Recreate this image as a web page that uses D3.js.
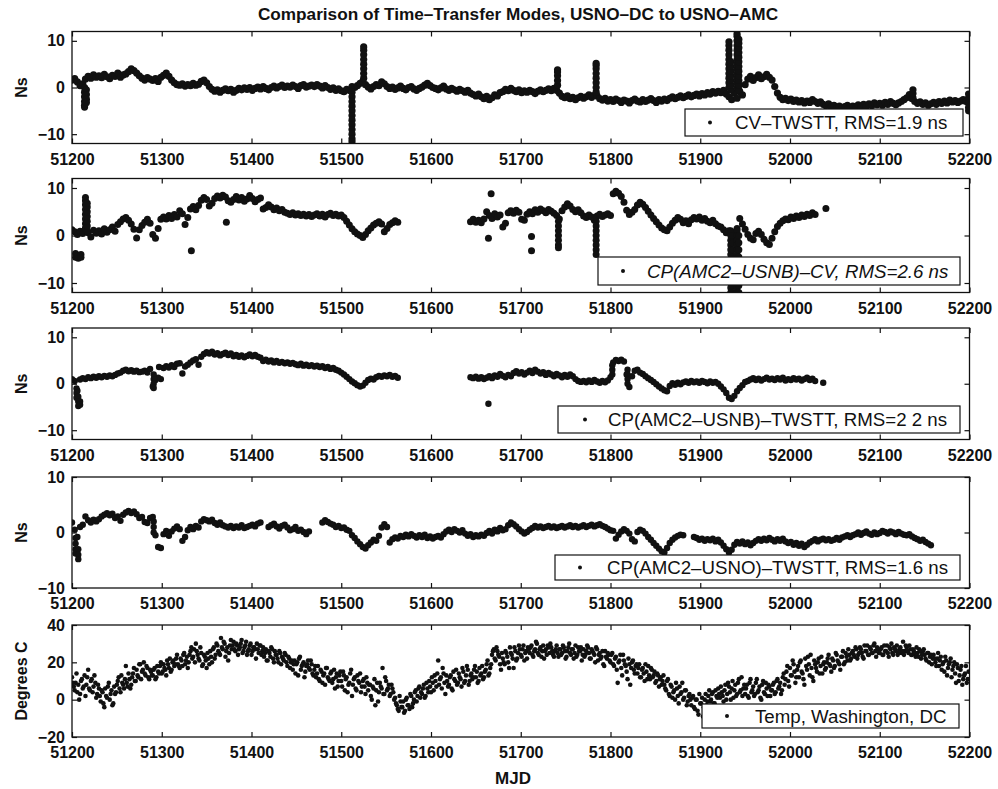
<!DOCTYPE html>
<html>
<head>
<meta charset="utf-8">
<script src="https://cdn.jsdelivr.net/npm/d3@7"></script>
<style>
  body { margin: 0; background: #fff; }
  text { font-family: "Liberation Sans", Arial, Helvetica, sans-serif; fill: #111; }
</style>
</head>
<body>
<svg id="chart" width="998" height="789"></svg>
<script>
// ---------------------------------------------------------------------------
// Data: differences in ns, sampled every 3 days (MJD); temperature every 2 days
// (two interleaved runs: even and odd days).
// Each series is a list of [startMJD, values] runs; gaps between runs are missing data.
// "Bursts" are columns of extra points (excursions / outliers) at a given MJD.
// ---------------------------------------------------------------------------
const mjdTicks = [51200, 51300, 51400, 51500, 51600, 51700, 51800, 51900, 52000, 52100, 52200];
const nsStepDays = 3;
const tempStepDays = 2;

const cvTwsttNs = [
  [51200, [
    1.6, 1.9, 1.2, 0.4, 0.8, 1.8, 2.4, 2.0, 2.7, 2.2,
    2.5, 2.1, 2.8, 2.3, 1.9, 2.6, 2.4, 3.1, 2.2, 2.7,
    2.9, 3.4, 4.0, 3.6, 3.1, 2.5, 2.0, 1.6, 2.1, 1.8,
    1.5, 1.9, 1.3, 2.2, 2.6, 3.1, 2.4, 1.6, 1.0, 0.6,
    0.5, 0.8, 0.3, 0.6, 0.4, 0.9, 0.5, 0.7, 1.3, 1.6,
    1.0, 0.2, -0.4, -0.8, -0.5, -1.0, -0.6, -0.3, -0.7, -0.4,
    -1.0, -0.6, -0.2, -0.5, -0.1, -0.4, 0.0, -0.6, -0.2, 0.1,
    -0.3, 0.2, -0.2, -0.5, 0.0, 0.3, -0.1, 0.2, 0.5, 0.0,
    0.3, 0.1, 0.5, 0.2, -0.2, 0.4, 0.6, 0.1, 0.3, 0.5,
    0.2, 0.6, 0.3, -0.1, 0.4, 0.0, -0.4, -0.1, -0.6, -0.3,
    -0.7, -0.9, -0.4, -0.6, 0.2, 0.0, 0.4, 0.9, 1.3, 0.6,
    0.1, -0.3, 0.2, 0.6, 0.4, 1.2, 0.8, 0.2, -0.2, 0.1,
    -0.4, -0.1, 0.3, -0.2, -0.5, 0.0, 0.2, -0.3, -0.6, -0.2,
    0.1, 0.5, 0.9, 0.4, 0.0, -0.2, -0.5, -0.1, 0.3, -0.3,
    -0.6, -0.2, -0.5, -0.8, -0.4, -0.7, -1.0, -0.6, -1.2, -1.5,
    -1.8, -1.4, -2.0, -2.4, -1.9, -2.6, -2.2, -1.6, -1.8, -1.1,
    -0.9, -0.4, -0.7, -0.2, -0.6, -0.9, -0.5, -1.1, -0.7, -1.0,
    -0.6, -0.9, -1.3, -0.8, -0.5, -0.9, -0.6, -0.3, -0.7, -0.2,
    -0.6, -1.2, -1.9, -2.2, -1.8, -2.4, -2.1, -2.6, -2.2, -1.9,
    -2.3, -2.0, -1.6, -2.1, -1.7, -1.8, -2.4, -2.7, -2.3, -2.9,
    -2.6, -3.0, -2.5, -2.8, -3.2, -2.7, -2.9, -3.3, -2.8, -2.5,
    -2.9, -3.1, -2.6, -3.0, -2.7, -2.4, -2.8, -3.2, -2.6, -2.9,
    -2.5, -2.8, -2.3, -2.0, -2.4, -2.1, -1.8, -2.2, -1.9, -1.6,
    -2.0, -1.7, -1.4, -1.8, -1.3, -1.6, -1.1, -1.4, -0.9, -1.2,
    -0.8, -1.1, -0.6, -1.4, -2.0, -2.6, -1.2, -2.3, -0.9, -1.6,
    0.6, 1.8, 2.4, 1.5, 2.1, 2.7, 1.9, 2.3, 2.8, 2.2,
    1.6, 0.2, -1.2, -2.1, -2.6, -2.3, -2.8, -2.5, -3.0, -2.7,
    -3.1, -2.8, -3.3, -2.9, -3.2, -2.6, -3.0, -3.4, -3.1, -3.6,
    -3.9, -3.5, -4.2, -3.8, -4.4, -4.0, -4.5, -4.1, -3.8, -4.3,
    -4.0, -4.4, -3.7, -4.1, -3.6, -4.0, -3.5, -3.9, -3.3, -3.7,
    -3.4, -3.8, -3.2, -3.6, -3.0, -3.4, -3.7, -3.3, -3.0, -2.6,
    -2.2, -1.5, -2.4, -3.0, -3.4, -3.1, -3.6, -3.3, -3.8, -3.5,
    -3.2, -3.6, -3.0, -3.4, -2.9, -3.3, -2.7, -3.1, -2.8, -3.2,
    -2.9, -2.6, -3.0, -2.4
  ]]
];
const cvTwsttBursts = [
  [51214, [0, -1, -2, -3, -3.8, -4.2]],
  [51216, [-0.5, -1.5, -2.5, -3.2]],
  [51512, [-1, -2, -3, -4, -5, -6, -7, -8, -9, -10, -11, -11.6]],
  [51525, [2, 3, 4, 5, 6, 7, 8, 8.7]],
  [51741, [0.5, 1.5, 2.5, 3.3, 3.8]],
  [51784, [-1, 0, 1, 2, 3, 4, 4.7, 5.2]],
  [51932, [0, 1, 2, 3, 4, 5, 6, 7, 8, 9, 9.8]],
  [51934, [-0.5, 0.5, 1.5, 2.5, 3.5, 4.5, 5.5]],
  [51941, [0, 1, 2, 3, 4, 5, 6, 7, 8, 9, 10, 11, 11.5]],
  [51943, [-0.5, 0.5, 1.5, 2.5, 3.5, 4.5, 5.5, 6.5, 7.5, 8.5, 9.5, 10.3]],
  [52137, [-2.2, -1.3, -0.5]],
  [52199, [-1.4, -2.4, -3.4, -4.3, -5.0]]
];

const cpUsnbCvNs = [
  [51200, [
    1.2, 0.8, 0.2, 0.9, 0.4, 1.5, 0.6, -0.3, 1.1, 0.5,
    1.0, 0.3, 1.4, 0.7, 1.2, 1.8, 0.9, 2.3, 2.9, 3.5,
    3.8, 3.2, 2.4, 1.3, -0.5, 1.2, 2.1, 2.8, 3.4, 2.6,
    0.2, -0.6, 1.5, 3.4, 3.9, 3.5, 4.2, 3.6, 4.4, 3.9,
    5.2, 4.6, 2.3, 3.8, 5.6, 6.1, 5.4, 6.3, 7.4, 8.0,
    7.6, 6.2, 6.8, 7.8, 8.3, 7.9, 8.5, 8.1, 7.3, 7.0,
    7.6, 8.2, 7.5, 8.0, 7.2, 7.7, 8.4, 7.8, 7.1, 7.6,
    7.9, 5.6, 5.9, 6.5, 6.0, 5.4, 5.8, 5.2, 5.5, 4.9,
    4.7, 4.4, 4.8, 4.3, 4.6, 4.2, 4.5, 4.1, 4.4, 4.0,
    4.3, 4.6, 4.1, 4.5, 3.9, 4.4, 4.7, 4.2, 4.5, 4.1,
    4.3, 3.8, 3.0, 2.2, 1.4, 0.8, 0.3, 0.0, -0.4, 0.2,
    1.0, 1.6, 2.2, 2.6, 2.9, 2.4, 0.8, 1.5, 2.3, 2.7,
    3.1, 2.8
  ]],
  [51644, [
    2.9, 3.4,
    2.8, 3.2, 2.7, 3.5, 5.0, 4.2, 3.6, 4.6, 3.9, 4.3,
    1.8, 2.6, 4.8, 5.2, 4.7, 5.3, 4.9, 3.4, 3.2, 4.5,
    5.0, 4.6, 5.4, 4.9, 5.6, 5.2, 4.8, 5.5, 5.1, 4.7,
    4.2, 3.5, 5.2, 6.0, 6.7, 6.2, 5.5, 5.0, 5.4, 4.8,
    4.1, 3.8, 4.3, 3.9, 3.2, 4.1, 4.5, 4.0, 4.3, 4.6,
    4.2, 8.8, 9.3, 8.9, 8.2, 7.0, 5.3, 4.4, 4.9, 5.5,
    6.4, 7.0, 6.6, 5.9, 5.1, 4.3, 3.6, 2.9, 2.2, 1.6,
    1.2, 1.0, 1.8, 2.6, 3.2, 3.8, 3.4, 2.7, 3.1, 2.5,
    3.3, 3.8, 3.5, 3.9, 3.2, 3.6, 3.0, 2.7, 3.2, 2.5,
    2.0, 1.8, 1.2, 0.6, 1.0, 0.4, -0.2, 1.5, 3.6, 2.4,
    1.3, 0.2, -0.6, -0.9, 0.4, 0.9, 0.2, -0.8, -1.5, -1.9,
    -0.6, 0.8, 1.9, 2.6, 3.1, 3.5, 3.3, 3.9, 3.6, 4.1,
    3.8, 4.3, 4.0, 4.5, 4.2, 4.8, 4.4
  ]],
  [52040, [5.7]]
];
const cpUsnbCvBursts = [
  [51204, [-3.8, -4.6]], [51207, [-4.2, -4.8]], [51210, [-4.0, -4.6]],
  [51215, [1.5, 2.5, 3.5, 4.5, 5.5, 6.5, 7.3, 8.0]],
  [51217, [1, 2, 3, 4, 5, 6, 6.8]],
  [51333, [-3.2]], [51372, [2.8]],
  [51664, [-0.6]], [51667, [8.8]],
  [51712, [-0.2, -3.2]],
  [51742, [3, 2, 1, 0, -1, -2, -2.6]],
  [51784, [3, 2, 1, 0, -1, -2, -3, -4]],
  [51934, [1, 0, -1, -2, -3, -4, -5, -6, -7, -8, -9, -10, -11, -12, -12.8]],
  [51936, [0, -1.5, -3, -4.5, -6, -7.5, -9, -10.5, -12, -12.8]],
  [51941, [1, 0, -1, -2, -3, -4, -5, -6, -7, -8, -9, -10, -11, -12, -12.8]],
  [51943, [0, -1.5, -3, -4.5, -6, -7.5, -9, -10.5, -12, -12.8]]
];

const cpUsnbTwsttNs = [
  [51200, [
    1.0, 0.6, -1.5, 0.9, 1.2, 1.0, 1.4, 1.2, 1.5, 1.3,
    1.6, 1.4, 1.7, 1.5, 1.8, 1.6, 1.9, 2.2, 2.4, 2.8,
    3.0, 2.7, 2.9, 2.6, 2.8, 2.5, 2.6, 2.8, 2.4, 3.2,
    -0.6, 0.8, 1.3, 1.0, 3.4, 3.8, 3.5, 4.0, 3.6, 4.3,
    4.4, 2.2, 3.7, 4.1, 4.6, 5.0, 5.3, 4.1, 5.8, 6.4,
    6.8, 6.5, 6.9, 6.3, 6.6, 6.1, 6.4, 6.7, 6.2, 6.5,
    5.9, 6.2, 5.8, 6.1, 5.7, 6.0, 6.3, 5.9, 6.2, 5.8,
    5.6, 4.9, 5.2, 4.8, 5.0, 4.6, 4.9, 4.5, 4.7, 4.4,
    4.6, 4.3, 4.5, 4.2, 4.0, 4.3, 3.9, 4.1, 3.8, 4.0,
    3.7, 3.9, 3.6, 3.8, 3.4, 3.6, 3.2, 3.4, 3.0, 2.8,
    2.4, 2.0, 1.5, 1.0, 0.5, 0.1, -0.3, -0.6, -0.4, 0.2,
    0.8, 1.1, 0.9, 1.4, 1.7, 1.5, 1.8, 1.6, 1.9, 1.5,
    1.7, 1.3
  ]],
  [51644, [
    1.4, 1.2,
    1.5, 1.1, 1.4, 1.0, 1.3, 1.6, 1.2, 1.8, 1.5, 2.1,
    1.7, 1.4, 1.9, 1.6, 2.3, 2.7, 2.2, 2.5, 2.0, 2.4,
    2.8, 2.3, 3.0, 2.6, 2.2, 2.5, 1.9, 2.3, 2.0, 1.6,
    2.1, 1.8, 1.4, 1.9, 1.5, 2.0, 1.6, 1.0, 0.6, 0.4,
    0.6, 0.3, 0.7, 0.4, 0.8, 0.5, 0.2, 0.6, 0.3, 0.7,
    1.4, 4.6, 5.1, 4.9, 5.2, 4.8, 2.0, -0.7, 1.6, 2.8,
    3.0, 2.4, 2.1, 1.6, 1.2, 0.8, 0.4, -0.1, -0.6, -1.0,
    -1.4, -1.6, -0.5, 0.1, -0.2, 0.2, -0.1, 0.3, 0.5, 0.2,
    0.6, 0.3, 0.5, 0.2, 0.6, 0.4, 0.1, 0.5, 0.2, 0.4,
    0.0, -0.6, -1.2, -2.0, -3.0, -3.3, -2.6, -1.6, -0.9, -0.3,
    0.4, 0.6, 0.9, 1.2, 0.8, 1.1, 0.7, 1.0, 1.3, 0.9,
    1.1, 0.8, 1.2, 0.9, 1.3, 0.7, 1.0, 0.8, 1.2, 0.9,
    1.1, 0.7, 1.0, 1.3, 0.8, 1.1, 0.6
  ]],
  [52037, [0.2]]
];
const cpUsnbTwsttBursts = [
  [51205, [-1, -2, -3]], [51207, [-2.8, -3.8, -4.8]], [51209, [-3.8, -4.5]],
  [51291, [2, 1, 0, -0.9]], [51297, [3.6]],
  [51664, [-4.3]],
  [51802, [2, 3, 4]], [51819, [3, 2, 1, 0]]
];

const cpUsnoTwsttNs = [
  [51200, [
    1.8, 0.5, -0.8, 1.0, 1.4, 2.9, 2.2, 1.8, 2.3, 2.0,
    2.4, 2.9, 3.2, 3.5, 3.1, 3.4, 2.6, 2.9, 2.1, 3.2,
    3.6, 3.9, 3.5, 3.8, 3.3, 2.6, 2.8, 1.9, 1.7, 2.6,
    2.8, -0.5, -2.6, -2.8, -0.3, 0.3, -0.6, 0.2, 0.7, 1.1,
    0.6, -1.5, -0.8, 0.4, 1.0, 0.6, 1.2, 0.9, 2.0, 2.4,
    2.2, 2.0, 2.3, 1.7, 1.4, 1.8, 1.3, 1.1, 0.9, 1.2,
    0.8, 1.1, 0.9, 1.3, 0.8, 1.0, 1.2, 1.4, 1.1, 1.6,
    1.8
  ]],
  [51419, [
    1.0, 1.3, 1.6, 1.1, 0.7, 1.2, 1.4,
    0.9, 0.4, 0.6, 1.0, 0.3, 0.5, 0.1, -0.3, 0.2
  ]],
  [51479, [
    1.8, 2.2, 1.9, 1.6, 1.4, 1.0, 1.2,
    0.8, 0.9, 0.5, 0.3, -0.5, -1.0, -1.6, -2.1, -2.6, -2.9,
    -2.3, -1.8, -1.3, -1.5, -0.6, 0.9, 1.5, 1.0, -1.8, -1.2,
    -0.9, -1.1, -0.6, -0.8, -0.4, -0.7, -0.3, -0.6, -0.9, -0.5,
    -0.8, -0.4, -1.0, -0.7, -1.1, -0.8, -0.6, -0.9, -0.3, 0.2,
    0.5, 0.1, 0.6, 0.3, 0.0, 0.4, -0.2, -0.6, -0.3, -0.8,
    -0.5, -0.7, -0.4, -0.6, -0.1, 0.3, -0.2, 0.5, 0.2, 0.8,
    0.4, 0.6, 1.3, 1.8, 1.5, 1.1, 0.6, 0.2, -0.2, 0.1,
    0.5, 0.8, 1.2, 0.9, 1.1, 0.8, 1.0, 1.2, 0.9, 1.1,
    0.8, 1.0, 1.2, 0.9, 1.1, 1.3, 1.0, 1.2, 0.9, 1.1,
    1.3, 1.0, 1.2, 1.4, 1.1, 1.3, 1.5, 1.2, 1.0, 0.7,
    0.4, 0.3, -1.1, -0.4, 0.2, 0.6, 0.3, -0.2, -1.2, -1.6,
    0.1, 0.5, 0.3, -0.2, -0.8, -1.3, -1.9, -2.4, -2.9, -3.4,
    -3.6, -2.8, -1.9, -1.3, -0.9, -0.6, -0.4, -0.5
  ]],
  [51893, [
    -0.8, -1.0, -1.3, -1.1, -1.5, -1.2, -1.4, -1.1, -1.6,
    -1.3, -1.8, -2.4, -3.0, -3.6, -3.1, -2.2, -1.7, -2.0, -1.6,
    -2.1, -1.8, -2.3, -1.9, -1.5, -1.2, -1.5, -1.1, -1.4, -1.0,
    -1.3, -1.6, -1.2, -1.5, -1.1, -1.6, -1.9, -1.7, -2.2, -1.9,
    -2.4, -2.0, -2.6, -2.2, -1.8, -1.5, -1.2, -1.6, -1.3, -1.1,
    -1.4, -1.2, -1.5, -1.3, -1.0, -1.3, -0.9, -0.7, -0.5, -0.8,
    -0.5, -0.3, 0.0, -0.4, -0.1, 0.2, -0.2, -0.4, 0.0, -0.3,
    -0.1, 0.3, 0.1, -0.2, 0.2, 0.0, -0.3, 0.1, -0.2, -0.4,
    -0.5, -0.3, -0.7, -1.0, -1.2, -1.5, -1.3, -1.7, -2.0, -2.3
  ]]
];
const cpUsnoTwsttBursts = [
  [51204, [-1, -2, -3, -3.8]], [51207, [-3, -4, -4.8]],
  [51291, [2, 1, 0]]
];

const tempWashingtonC = [
  [51200, [
    12, 7, 9, 4, 0, 10, 6, 13, 8, 16, 5, 11, 7, 9, 3,
    6, -1, 4, -4, 2, 7, 0, 5, -2, 3, 8, 12, 4, 9, 6,
    18, 7, 11, 8, 14, 10, 16, 12, 19, 15, 20, 13, 17, 11, 15,
    13, 17, 12, 15, 18, 14, 19, 16, 21, 17, 15, 20, 18, 22, 19,
    17, 21, 24, 19, 23, 20, 26, 22, 27, 30, 24, 21, 25, 19, 23,
    17, 22, 26, 20, 28, 24, 29, 25, 33, 27, 30, 26, 21, 29, 27,
    31, 26, 29, 27, 30, 25, 28, 31, 26, 29, 24, 28, 27, 30, 25,
    29, 26, 23, 27, 21, 25, 28, 22, 26, 24, 20, 25, 23, 21, 24,
    18, 22, 20, 16, 21, 19, 13, 23, 18, 20, 15, 19, 17, 21, 14,
    16, 12, 18, 10, 15, 13, 8, 17, 11, 14, 9, 16, 12, 7, 13,
    10, 15, 5, 12, 8, 14, 2, 11, 6, 13, 9, 4, 10, 7, 12,
    5, 8, 0, 6, -3, 9, 4, 7, 17, 3, 10, 6, 2, 8, 4,
    1, -3, -6, -1, -4, -7, 0, -3, -5, 2, -2, 4, -1, 6, 1,
    3, 8, 2, 6, 10, 4, 9, 13, 7, 21, 11, 6, 14, 3, 10,
    8, 13, 5, 11, 16, 9, 12, 7, 15, 10, 18, 8, 13, 11, 16,
    12, 9, 17, 14, 11, 15, 19, 13, 17, 24, 27, 21, 26, 23, 16,
    22, 19, 25, 20, 28, 24, 17, 26, 22, 29, 24, 27, 21, 26, 28,
    25, 29, 23, 27, 30, 24, 28, 26, 22, 27, 29, 25, 28, 24, 26,
    29, 23, 27, 25, 28, 22, 26, 30, 24, 27, 25, 23, 28, 26, 21,
    27, 24, 29, 25, 22, 26, 24, 28, 21, 25, 23, 19, 26, 22, 24,
    20, 25, 18, 23, 9, 21, 17, 24, 19, 15, 22, 8, 20, 16, 18,
    14, 19, 12, 17, 10, 15, 18, 11, 16, 13, 9, 14, 7, 12, 10,
    8, 5, 11, 2, 7, 4, 0, 6, -2, 3, 9, 1, 5, -1, 3,
    -3, 2, -5, 0, -8, -2, 1, -4, 3, -1, 5, 0, 4, -2, 2,
    6, 1, 4, -1, 8, 3, 7, 0, 10, 5, 2, 9, 4, 12, 6,
    3, 8, 1, 11, 5, 2, 9, 4, 7, 0, 10, 3, 6, 8, 2,
    5, 9, 4, 11, 7, 3, 12, 8, 15, 10, 17, 13, 19, 9, 16,
    12, 21, 14, 8, 18, 23, 13, 17, 10, 19, 15, 22, 18, 14, 20,
    17, 22, 19, 15, 21, 18, 24, 20, 16, 23, 19, 25, 21, 24, 22,
    26, 23, 27, 24, 28, 25, 22, 26, 29, 24, 27, 25, 30, 23, 27,
    25, 28, 24, 26, 29, 23, 27, 25, 28, 26, 24, 27, 25, 31, 26,
    28, 25, 27, 24, 26, 23, 25, 27, 22, 26, 24, 21, 25, 23, 19,
    24, 20, 22, 18, 23, 19, 15, 21, 17, 20, 12, 18, 14, 19, 10,
    16, 8, 13, 18, 11
  ]],
  [51201, [
    9, 5, 14, 8, 3, 11, 7, 2, 12, 6, 10, 4, 13, 1, 8,
    2, 5, -2, 6, 1, 9, 3, -3, 7, 4, 10, 6, 13, 8, 11,
    9, 14, 6, 12, 17, 10, 13, 19, 11, 16, 14, 18, 12, 16, 13,
    16, 11, 18, 14, 20, 15, 17, 13, 19, 22, 16, 21, 19, 24, 18,
    22, 18, 25, 21, 17, 24, 28, 23, 20, 26, 22, 28, 18, 24, 21,
    25, 19, 23, 27, 22, 30, 26, 24, 28, 31, 23, 28, 25, 32, 29,
    27, 30, 24, 28, 32, 26, 29, 24, 27, 30, 26, 28, 22, 27, 29,
    24, 28, 25, 21, 26, 23, 27, 20, 24, 22, 26, 19, 22, 25, 20,
    23, 17, 21, 19, 14, 20, 22, 16, 19, 12, 18, 21, 16, 19, 13,
    18, 14, 11, 16, 9, 14, 17, 12, 10, 15, 11, 6, 14, 10, 15,
    7, 13, 11, 4, 9, 16, 8, 12, 5, 10, 14, 7, 11, 3, 9,
    8, 2, 7, 11, 5, -1, 9, 6, 3, 12, 5, 8, 3, 6, 0,
    -2, -5, 2, -4, -1, -6, 1, -3, 3, -4, 0, 5, 2, 7, 4,
    6, 1, 9, 4, 7, 12, 5, 10, 14, 8, 12, 17, 9, 13, 7,
    12, 6, 15, 10, 8, 14, 11, 17, 9, 13, 16, 10, 14, 12, 18,
    15, 10, 13, 18, 12, 16, 21, 14, 19, 26, 22, 28, 24, 19, 25,
    20, 26, 23, 17, 25, 22, 28, 21, 25, 27, 23, 29, 25, 22, 27,
    28, 24, 26, 31, 25, 27, 23, 29, 26, 24, 28, 30, 26, 23, 27,
    25, 27, 24, 29, 26, 23, 28, 25, 27, 22, 29, 24, 26, 28, 24,
    23, 26, 28, 22, 27, 25, 20, 27, 24, 22, 26, 18, 23, 25, 21,
    24, 19, 22, 16, 20, 24, 13, 21, 18, 11, 19, 17, 21, 14, 19,
    17, 12, 16, 14, 19, 11, 13, 17, 12, 15, 10, 13, 11, 8, 13,
    6, 10, 3, 8, 1, 5, 9, 2, 7, 4, 0, 5, -3, 2, 0,
    1, -4, 0, -6, 3, -2, -9, 0, -3, 2, -1, 3, -2, 5, 1,
    3, 7, 2, 5, 0, 9, 4, 6, 1, 8, 3, 11, 5, 2, 8,
    6, 2, 9, 4, 7, 3, 11, 5, 1, 8, 4, 9, 2, 7, 5,
    8, 3, 10, 6, 9, 5, 14, 11, 18, 7, 13, 21, 15, 12, 18,
    20, 15, 11, 22, 16, 19, 24, 12, 21, 17, 20, 14, 23, 19, 16,
    20, 24, 18, 22, 17, 25, 21, 19, 23, 26, 20, 23, 27, 21, 25,
    24, 28, 22, 25, 27, 23, 29, 26, 24, 28, 25, 29, 26, 28, 25,
    27, 24, 29, 26, 25, 28, 30, 24, 27, 29, 25, 28, 26, 24, 29,
    26, 29, 24, 27, 25, 28, 23, 26, 24, 27, 22, 25, 20, 24, 22,
    22, 18, 25, 21, 16, 20, 23, 13, 19, 22, 16, 20, 9, 17, 13,
    18, 11, 14, 9, 15
  ]]
];

const legendLabels = [
  "CV\u2013TWSTT, RMS=1.9 ns",
  "CP(AMC2\u2013USNB)\u2013CV, RMS=2.6 ns",
  "CP(AMC2\u2013USNB)\u2013TWSTT, RMS=2 2 ns",
  "CP(AMC2\u2013USNO)\u2013TWSTT, RMS=1.6 ns",
  "Temp, Washington, DC"
];
const titleText = "Comparison of Time\u2013Transfer Modes, USNO\u2013DC to USNO\u2013AMC";

// ---------------------------------------------------------------------------
// Layout
// ---------------------------------------------------------------------------
const W = 998, H = 789;
const plotLeft = 72, plotRight = 969.5;
const ink = "#111";

const panels = [
  { top: 31.5, bottom: 143.5, domain: [-12, 12], yTicks: [-10, 0, 10], yLabel: "Ns",
    series: cvTwsttNs, step: nsStepDays, bursts: cvTwsttBursts, r: 3.6,
    legend: { x: 685, y: 109, w: 278, h: 27, dotX: 710, textX: 735, italic: false, label: legendLabels[0] } },
  { top: 178.5, bottom: 292.5, domain: [-12, 12], yTicks: [-10, 0, 10], yLabel: "Ns",
    series: cpUsnbCvNs, step: nsStepDays, bursts: cpUsnbCvBursts, r: 3.5,
    legend: { x: 598, y: 257, w: 362, h: 28, dotX: 623, textX: 647, italic: true, label: legendLabels[1] } },
  { top: 328, bottom: 439.5, domain: [-12, 12], yTicks: [-10, 0, 10], yLabel: "Ns",
    series: cpUsnbTwsttNs, step: nsStepDays, bursts: cpUsnbTwsttBursts, r: 3.2,
    legend: { x: 558, y: 406, w: 402, h: 27, dotX: 585, textX: 608, italic: false, label: legendLabels[2] } },
  { top: 477, bottom: 588, domain: [-10, 10], yTicks: [-10, 0, 10], yLabel: "Ns",
    series: cpUsnoTwsttNs, step: nsStepDays, bursts: cpUsnoTwsttBursts, r: 3.2,
    legend: { x: 555, y: 555, w: 405, h: 25, dotX: 580, textX: 607, italic: false, label: legendLabels[3] } },
  { top: 625, bottom: 737, domain: [-20, 40], yTicks: [-20, 0, 20, 40], yLabel: "Degrees C",
    series: tempWashingtonC, step: tempStepDays, bursts: [], r: 2.3,
    legend: { x: 702, y: 704, w: 257, h: 24, dotX: 727, textX: 755, italic: false, label: legendLabels[4] } }
];

const svg = d3.select("#chart");
svg.append("rect").attr("width", W).attr("height", H).attr("fill", "#fff");

const x = d3.scaleLinear().domain([51200, 52200]).range([plotLeft, plotRight]);

panels.forEach((p, idx) => {
  const y = d3.scaleLinear().domain(p.domain).range([p.bottom, p.top]);
  const g = svg.append("g").attr("class", "panel");

  const clipId = "clip" + idx;
  svg.append("clipPath").attr("id", clipId)
    .append("rect").attr("x", plotLeft).attr("y", p.top)
    .attr("width", plotRight - plotLeft).attr("height", p.bottom - p.top);

  // gather points from runs and bursts
  const pts = [];
  p.series.forEach(([start, vals]) => {
    vals.forEach((v, i) => { if (v != null) pts.push({ mjd: start + i * p.step, v }); });
  });
  p.bursts.forEach(([mjd, vals]) => vals.forEach(v => pts.push({ mjd, v })));

  g.append("g").attr("clip-path", `url(#${clipId})`)
    .selectAll("circle").data(pts).join("circle")
    .attr("cx", d => x(d.mjd)).attr("cy", d => y(d.v))
    .attr("r", p.r).attr("fill", ink);

  // axes with inward ticks on all four sides
  const tick = 5;
  const bottomAxis = d3.axisBottom(x).tickValues(mjdTicks).tickFormat(d3.format("d"))
    .tickSizeInner(-tick).tickSizeOuter(0).tickPadding(10);
  const topAxis = d3.axisTop(x).tickValues(mjdTicks).tickFormat("")
    .tickSizeInner(-tick).tickSizeOuter(0);
  const leftAxis = d3.axisLeft(y).tickValues(p.yTicks)
    .tickSizeInner(-tick).tickSizeOuter(0).tickPadding(7);
  const rightAxis = d3.axisRight(y).tickValues(p.yTicks).tickFormat("")
    .tickSizeInner(-tick).tickSizeOuter(0);

  const styleAxis = sel => {
    sel.select(".domain").remove();
    sel.selectAll(".tick line").attr("stroke", ink).attr("stroke-width", 1.2);
    sel.selectAll(".tick text").attr("fill", ink)
      .style("font-size", "16px").style("font-weight", "bold");
  };
  g.append("g").attr("transform", `translate(0,${p.bottom})`).call(bottomAxis).call(styleAxis);
  g.append("g").attr("transform", `translate(0,${p.top})`).call(topAxis).call(styleAxis);
  g.append("g").attr("transform", `translate(${plotLeft},0)`).call(leftAxis).call(styleAxis);
  g.append("g").attr("transform", `translate(${plotRight},0)`).call(rightAxis).call(styleAxis);

  // frame
  g.append("rect").attr("x", plotLeft).attr("y", p.top)
    .attr("width", plotRight - plotLeft).attr("height", p.bottom - p.top)
    .attr("fill", "none").attr("stroke", ink).attr("stroke-width", 1.3);

  // y label
  g.append("text")
    .attr("transform", `translate(21,${(p.top + p.bottom) / 2}) rotate(-90)`)
    .attr("text-anchor", "middle").attr("dy", "0.35em")
    .style("font-size", "16px").style("font-weight", "bold")
    .text(p.yLabel);

  // legend
  const L = p.legend;
  const lg = g.append("g");
  lg.append("rect").attr("x", L.x).attr("y", L.y).attr("width", L.w).attr("height", L.h)
    .attr("fill", "#fff").attr("stroke", ink).attr("stroke-width", 1.2);
  lg.append("circle").attr("cx", L.dotX).attr("cy", L.y + L.h / 2).attr("r", 2).attr("fill", ink);
  lg.append("text").attr("x", L.textX).attr("y", L.y + L.h / 2).attr("dy", "0.36em")
    .style("font-size", "18.7px").style("font-style", L.italic ? "italic" : "normal")
    .text(L.label);
});

// title and x-axis label
svg.append("text").attr("x", 518).attr("y", 20).attr("text-anchor", "middle")
  .style("font-size", "17.2px").style("font-weight", "bold").text(titleText);
svg.append("text").attr("x", 513).attr("y", 784).attr("text-anchor", "middle")
  .style("font-size", "17px").style("font-weight", "bold").text("MJD");
</script>
</body>
</html>
